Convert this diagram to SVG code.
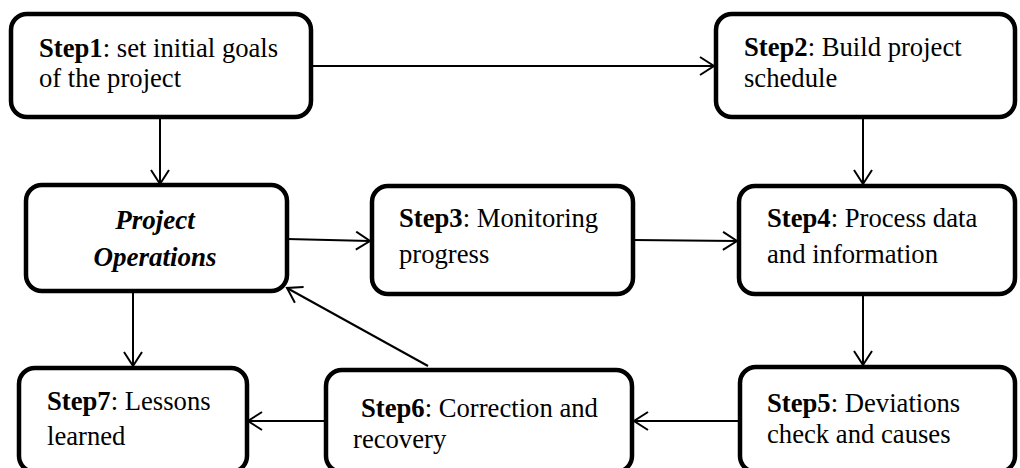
<svg xmlns="http://www.w3.org/2000/svg" width="1020" height="468" viewBox="0 0 1020 468">
<style>
.box{fill:#fff;stroke:#000;stroke-width:4.5}
.t{font-family:'Liberation Serif','Times New Roman',Times,serif;font-size:26.67px;fill:#000}
.b{font-weight:bold}
.po{font-family:'Liberation Serif','Times New Roman',Times,serif;font-size:27px;font-weight:bold;font-style:italic;text-anchor:middle}
.c{fill:none;stroke:#000;stroke-width:2}
</style>
<defs>
<marker id="ah" viewBox="0 0 17 20" refX="15" refY="10" markerWidth="17" markerHeight="20" markerUnits="userSpaceOnUse" orient="auto">
<path d="M1,1 L15,10 L1,19" fill="none" stroke="#000" stroke-width="2"/>
</marker>
</defs>
<rect width="1020" height="468" fill="#fff"/>
<g id="connectors">
<line class="c" x1="311" y1="66" x2="714" y2="66" marker-end="url(#ah)"/>
<line class="c" x1="160" y1="117" x2="160" y2="184" marker-end="url(#ah)"/>
<line class="c" x1="863" y1="117" x2="863" y2="184" marker-end="url(#ah)"/>
<line class="c" x1="287" y1="239" x2="370" y2="241" marker-end="url(#ah)"/>
<line class="c" x1="633" y1="240" x2="737" y2="241" marker-end="url(#ah)"/>
<line class="c" x1="863" y1="294" x2="863" y2="365" marker-end="url(#ah)"/>
<line class="c" x1="740" y1="421" x2="634" y2="421" marker-end="url(#ah)"/>
<line class="c" x1="428" y1="366" x2="287" y2="288" marker-end="url(#ah)"/>
<line class="c" x1="325" y1="421" x2="248" y2="421" marker-end="url(#ah)"/>
<line class="c" x1="133" y1="291" x2="133" y2="366" marker-end="url(#ah)"/>
</g>
<g id="step1">
<rect class="box" x="11" y="14" width="300" height="103" rx="16"/>
<text class="t" x="39" y="57"><tspan class="b">Step1</tspan>: set initial goals</text>
<text class="t" x="39" y="87">of the project</text>
</g>
<g id="step2">
<rect class="box" x="716" y="14" width="299" height="103" rx="16"/>
<text class="t" x="744" y="56"><tspan class="b">Step2</tspan>: Build project</text>
<text class="t" x="744" y="87">schedule</text>
</g>
<g id="project-operations">
<rect class="box" x="26" y="185" width="261" height="106" rx="16"/>
<text class="po" x="155" y="229">Project</text>
<text class="po" x="155" y="266">Operations</text>
</g>
<g id="step3">
<rect class="box" x="372" y="186" width="261" height="108" rx="16"/>
<text class="t" x="399" y="227"><tspan class="b">Step3</tspan>: Monitoring</text>
<text class="t" x="399" y="263">progress</text>
</g>
<g id="step4">
<rect class="box" x="739" y="186" width="276" height="108" rx="16"/>
<text class="t" x="767" y="227"><tspan class="b">Step4</tspan>: Process data</text>
<text class="t" x="767" y="263">and information</text>
</g>
<g id="step5">
<rect class="box" x="740" y="367" width="275" height="105" rx="16"/>
<text class="t" x="767" y="412"><tspan class="b">Step5</tspan>: Deviations</text>
<text class="t" x="767" y="443">check and causes</text>
</g>
<g id="step6">
<rect class="box" x="326" y="370" width="306" height="102" rx="16"/>
<text class="t" x="361" y="417"><tspan class="b">Step6</tspan>: Correction and</text>
<text class="t" x="353" y="448">recovery</text>
</g>
<g id="step7">
<rect class="box" x="19" y="368" width="228" height="104" rx="16"/>
<text class="t" x="47" y="410"><tspan class="b">Step7</tspan>: Lessons</text>
<text class="t" x="47" y="445">learned</text>
</g>
</svg>
